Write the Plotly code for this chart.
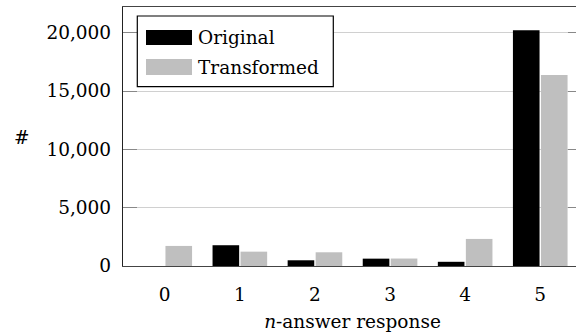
import plotly.graph_objects as go

categories = ["0", "1", "2", "3", "4", "5"]
original = [0, 1780, 490, 630, 360, 20200]
transformed = [1720, 1230, 1175, 640, 2320, 16370]
series_names = ["Original", "Transformed"]
series_colors = ["#000000", "#bfbfbf"]
y_ticks = [0, 5000, 10000, 15000, 20000]

FONT = "DejaVu Serif"
FS = 18.5
W, H = 590, 335
L, R, T, B = 123, 8, 7, 69
PW, PH = W - L - R, H - T - B

fig = go.Figure()
for name, vals, col in zip(series_names, [original, transformed], series_colors):
    fig.add_trace(go.Bar(
        x=categories, y=vals, name=name,
        marker=dict(color=col, line=dict(width=0)),
        showlegend=False,
    ))

def px_x(p):
    return (p - L) / PW

def px_y(p):
    return (H - B - p) / PH

shapes = [
    dict(type="rect", xref="paper", yref="paper",
         x0=px_x(137.3), x1=px_x(333.3), y0=px_y(86.7), y1=px_y(16),
         line=dict(color="#000000", width=1.2), fillcolor="white", layer="above"),
]
annotations = []
sw_rows = [(30, 45), (59, 75)]
for (ya, yb), name, col in zip(sw_rows, series_names, series_colors):
    shapes.append(dict(type="rect", xref="paper", yref="paper",
                       x0=px_x(146), x1=px_x(192), y0=px_y(yb), y1=px_y(ya),
                       line=dict(width=0), fillcolor=col, layer="above"))
    annotations.append(dict(xref="paper", yref="paper", x=px_x(196), y=px_y((ya + yb) / 2),
                            xanchor="left", yanchor="middle", showarrow=False,
                            text=name, font=dict(family=FONT, size=FS, color="black")))
annotations.append(dict(xref="paper", yref="paper", x=px_x(22), y=px_y(137),
                        xanchor="center", yanchor="middle", showarrow=False,
                        text="#", font=dict(family=FONT, size=FS, color="black")))

fig.update_layout(
    width=W, height=H,
    margin=dict(l=L, r=R, t=T, b=B, pad=0),
    paper_bgcolor="white", plot_bgcolor="white",
    barmode="group", bargap=0.254, bargroupgap=0.05,
    font=dict(family=FONT, size=FS, color="black"),
    shapes=shapes, annotations=annotations,
    showlegend=False,
)
fig.update_xaxes(
    type="category", range=[-0.556, 5.556],
    showline=True, linecolor="#444444", linewidth=1.3, mirror=True,
    showgrid=False, ticks="", ticklabelstandoff=12,
    title=dict(text="<i>n</i>-answer response", font=dict(family=FONT, size=FS), standoff=10),
    zeroline=False,
)
fig.update_yaxes(
    range=[0, 22200], tickvals=y_ticks, tickformat=",d",
    showline=True, linecolor="#222222", linewidth=1.3, mirror="ticks",
    ticks="inside", ticklen=14, tickcolor="#888888", tickwidth=1.2,
    showgrid=True, gridcolor="#d0d0d0", gridwidth=1,
    zeroline=False, ticklabelstandoff=7,
)

fig.write_html("out.html", post_script=(
    "document.documentElement.style.overflow='hidden';"
    "document.body.style.overflow='hidden';document.body.style.margin='0';"
))
